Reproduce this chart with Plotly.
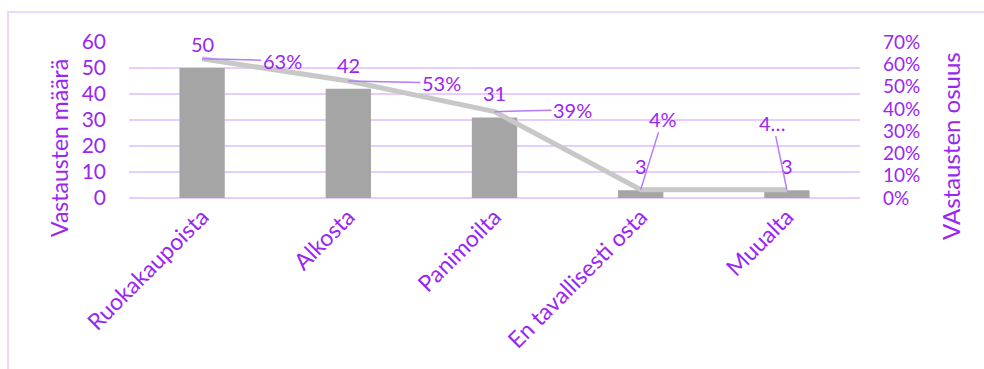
import plotly.graph_objects as go

categories = ["Ruokakaupoista", "Alkosta", "Panimoilta", "En tavallisesti osta", "Muualta"]
counts = [50, 42, 31, 3, 3]
shares = [0.625, 0.525, 0.3875, 0.0375, 0.0375]
share_labels = ["63%", "53%", "39%", "4%", "4…"]
count_labels = ["50", "42", "31", "3", "3"]

# label offsets (pixels) for the dragged share labels
share_ax = [80, 93, 78, 22, -14]
share_ay = [2, 2, -2, -71, -67]

PURPLE = "#9A26F2"
LEADER = "#B47BFA"
GRID = "#E6CCFF"
FONT = "Lato, Carlito, Calibri, sans-serif"

fig = go.Figure()
fig.add_trace(go.Bar(x=categories, y=counts, marker=dict(color="#A5A5A5", line=dict(width=0)),
                     width=0.31, yaxis="y", showlegend=False, hoverinfo="skip"))
fig.add_trace(go.Scatter(x=categories, y=shares, mode="lines", yaxis="y2",
                         line=dict(color="#C8C8C8", width=5), showlegend=False, hoverinfo="skip"))

annotations = []
for c, v, t in zip(categories, counts, count_labels):
    annotations.append(dict(x=c, y=v, xref="x", yref="y", text=t, showarrow=False,
                            yshift=24, font=dict(family=FONT, size=20, color=PURPLE)))
for c, v, t, ax, ay in zip(categories, shares, share_labels, share_ax, share_ay):
    annotations.append(dict(x=c, y=v, xref="x", yref="y2", text=t, showarrow=True,
                            arrowhead=0, arrowwidth=1.5, arrowcolor=LEADER, ax=ax, ay=ay,
                            standoff=0, font=dict(family=FONT, size=20, color=PURPLE)))

# axis titles (placed as in the reference, below the vertical centre)
annotations.append(dict(xref="paper", yref="paper", x=-0.0958, y=0.3205, text="Vastausten määrä",
                        textangle=-90, showarrow=False, xanchor="center", yanchor="middle",
                        font=dict(family=FONT, size=23, color=PURPLE)))
annotations.append(dict(xref="paper", yref="paper", x=1.1231, y=0.333, text="VAstausten osuus",
                        textangle=-90, showarrow=False, xanchor="center", yanchor="middle",
                        font=dict(family=FONT, size=24, color=PURPLE)))

fig.update_layout(
    width=984, height=369,
    margin=dict(l=129, r=124, t=42, b=171),
    paper_bgcolor="white", plot_bgcolor="white",
    font=dict(family=FONT, color=PURPLE),
    bargap=0.69,
    xaxis=dict(tickangle=-45, tickfont=dict(size=23, color=PURPLE), showgrid=False,
               showline=False, ticks="", ticklen=0),
    yaxis=dict(range=[0, 60], dtick=10, showgrid=True, gridcolor=GRID, gridwidth=2,
               zeroline=True, zerolinecolor=GRID, zerolinewidth=2,
               tickfont=dict(size=21, color=PURPLE), ticks="", ticklabelstandoff=22),
    yaxis2=dict(range=[0, 0.7], dtick=0.1, tickformat=".0%", overlaying="y", side="right",
                showgrid=False, zeroline=False, tickfont=dict(size=19, color=PURPLE),
                ticks="", ticklabelstandoff=22),
    annotations=annotations,
    shapes=[dict(type="rect", xref="paper", yref="paper", x0=-0.1655, x1=2.0, y0=-3.0, y1=1.192,
                 line=dict(color="#E2CCFF", width=1.5), layer="below")],
)

fig.write_html("out.html")
